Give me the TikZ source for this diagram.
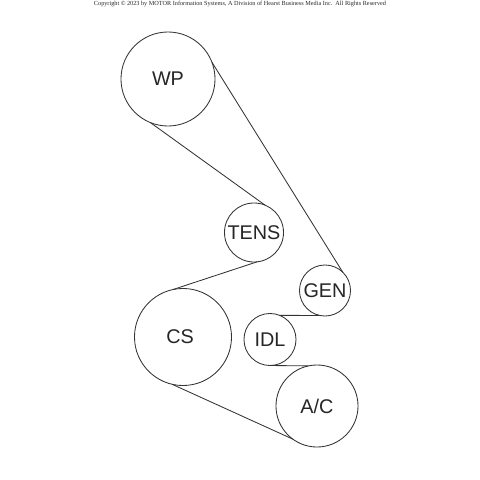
\documentclass[tikz,border=0pt]{standalone}
\usepackage{fontspec}
\setmainfont{Liberation Sans}
\newfontfamily\copyfont{Liberation Serif}
\tikzset{
  pulley/.style={draw=black!80,circle,inner sep=0pt,outer sep=0pt,minimum size=#1*0.05cm,font=\fontsize{14.1}{16}\selectfont,text=black!85},
  belt/.style={draw=black!80,line width=0.6pt}
}
\begin{document}
\begin{tikzpicture}[x=0.025cm,y=-0.025cm,line width=0.6pt]
  \useasboundingbox (0,0) rectangle (480,480);
  \node[font=\copyfont\fontsize{4.43}{6}\selectfont,text=black!85,inner sep=0pt] (copy) at (240,3.5){Copyright © 2023 by MOTOR Information Systems, A Division of Hearst Business Media Inc.\ \ All Rights Reserved};
  \node[pulley=47] (wp) at (168,79){WP};
  \node[pulley=29.5] (tens) at (254,232.5){TENS};
  \node[pulley=25.5] (gen) at (325,290.5){GEN};
  \node[pulley=26] (idl) at (270,339.5){IDL};
  \node[pulley=48.5] (cs) at (183,337){CS\kern4pt};
  \node[pulley=41] (ac) at (317,406){A/C};
  \draw[belt] (wp.21)--(gen.46);
  \draw[belt] (wp.248)--(tens.68);
  \draw[belt] (tens.-84)--(cs.102);
  \draw[belt] (cs.-103)--(ac.-126);
  \draw[belt] (idl.68)--(gen.-102);
  \draw[belt] (idl.-90)--(ac.102);
\end{tikzpicture}
\end{document}
